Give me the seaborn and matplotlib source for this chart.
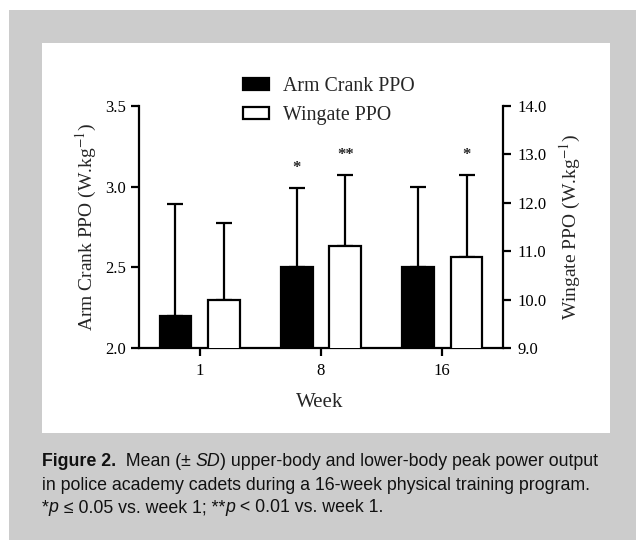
import numpy as np
import pandas as pd
import matplotlib
matplotlib.use("Agg")
import matplotlib.pyplot as plt
import seaborn as sns
from matplotlib.patches import Rectangle, Patch

# ---------------- data ----------------
weeks = ["1", "8", "16"]
arm_mean = [2.2, 2.5, 2.5]
arm_sd = [0.69, 0.49, 0.5]
wing_mean = [10.0, 11.1, 10.88]
wing_sd = [1.58, 1.47, 1.69]
arm_sig = ["", "*", ""]
wing_sig = ["", "**", "*"]
series = ["Arm Crank PPO", "Wingate PPO"]
left_ticks = [2.0, 2.5, 3.0, 3.5]
right_ticks = [9.0, 10.0, 11.0, 12.0, 13.0, 14.0]

df_arm = pd.DataFrame({"Week": weeks, "val": arm_mean, "series": series[0]})
df_wing = pd.DataFrame({"Week": weeks, "val": wing_mean, "series": series[1]})

sns.set_theme(style="ticks")
plt.rcParams["font.family"] = ["Liberation Serif", "DejaVu Serif"]
plt.rcParams["mathtext.fontset"] = "stix"

W, H = 636, 540
fig = plt.figure(figsize=(W / 100, H / 100), dpi=100)
fig.patch.set_facecolor("white")

# background panels
fig.patches.append(Rectangle((9 / W, 0), 1 - 9 / W, 1 - 10 / H, transform=fig.transFigure,
                             facecolor="#cccccc", edgecolor="none", zorder=-10))
fig.patches.append(Rectangle((42 / W, 1 - 433 / H), (610 - 42) / W, (433 - 43) / H,
                             transform=fig.transFigure, facecolor="white", edgecolor="none", zorder=-9))

ax = fig.add_axes([139 / W, 1 - 348 / H, (503 - 139) / W, (348 - 106) / H])
ax.patch.set_alpha(0)
ax2 = ax.twinx()
ax2.patch.set_alpha(0)

pal = {series[0]: "black", series[1]: "white"}
lw = 1.6
sns.barplot(data=df_arm, x="Week", y="val", hue="series", hue_order=series, order=weeks,
            palette=pal, width=0.8, gap=0.35, dodge=True, edgecolor="black", linewidth=lw,
            errorbar=None, legend=False, ax=ax)
sns.barplot(data=df_wing, x="Week", y="val", hue="series", hue_order=series, order=weeks,
            palette=pal, width=0.8, gap=0.35, dodge=True, edgecolor="black", linewidth=lw,
            errorbar=None, legend=False, ax=ax2)

def add_err(a, means, sds, sigs):
    bars = [p for p in a.patches if p.get_height() > 0][:len(means)]
    xs = [p.get_x() + p.get_width() / 2 for p in bars]
    a.errorbar(xs, means, yerr=[np.zeros(len(sds)), sds], fmt="none", ecolor="black",
               elinewidth=lw, capsize=5.5, capthick=lw, zorder=0)
    for x, m, s, t in zip(xs, means, sds, sigs):
        if t:
            a.annotate(t, (x, m + s), xytext=(0, 9), textcoords="offset points",
                       ha="center", va="bottom", fontsize=12, weight="bold")

add_err(ax, arm_mean, arm_sd, arm_sig)
add_err(ax2, wing_mean, wing_sd, wing_sig)

ax.set_ylim(2.0, 3.5)
ax2.set_ylim(9.0, 14.0)
ax.set_xlim(-0.5, 2.5)
ax.set_yticks(left_ticks)
ax.set_yticklabels([f"{v:.1f}" for v in left_ticks])
ax2.set_yticks(right_ticks)
ax2.set_yticklabels([f"{v:.1f}" for v in right_ticks])

for a in (ax, ax2):
    a.spines["top"].set_visible(False)
    for s in a.spines.values():
        s.set_linewidth(1.6)
        s.set_color("black")
ax.spines["right"].set_visible(False)
ax2.spines["left"].set_visible(False)
ax2.spines["bottom"].set_visible(False)

ax.tick_params(axis="both", direction="out", length=5.5, width=1.6, colors="black",
               labelsize=12, pad=4)
ax.tick_params(axis="x", pad=5)
ax2.tick_params(axis="y", direction="out", length=5.5, width=1.6, colors="black",
                labelsize=12, pad=5)

ax.set_xlabel("Week", fontsize=15)
ax.set_ylabel("Arm Crank PPO (W.kg$^{-1}$)", fontsize=14)
ax2.set_ylabel("Wingate PPO (W.kg$^{-1}$)", fontsize=14)
ax.xaxis.set_label_coords(0.497, -0.185)
ax.yaxis.set_label_coords(-0.11, 0.5)
ax2.yaxis.set_label_coords(1.151, 0.5)

handles = [Patch(facecolor="black", edgecolor="black", linewidth=lw),
           Patch(facecolor="white", edgecolor="black", linewidth=lw)]
fig.legend(handles, series, loc="upper left", bbox_to_anchor=(243 / W, 1 - 77 / H),
           frameon=False, fontsize=14.3, handlelength=1.3, handleheight=0.6,
           labelspacing=0.5, handletextpad=0.7, borderaxespad=0, borderpad=0)

# caption
cap_font = ["Liberation Sans", "DejaVu Sans"]
cap_size = 12.75
lines = [
    [("Figure 2.", "bold", "normal"), ("  Mean (\u00b1 ", "normal", "normal"), ("SD", "normal", "italic"),
     (") upper-body and lower-body peak power output", "normal", "normal")],
    [("in police academy cadets during a 16-week physical training program.", "normal", "normal")],
    [("*", "normal", "normal"), ("p", "normal", "italic"), (" \u2264 0.05 vs. week 1; **", "normal", "normal"),
     ("p", "normal", "italic"), (" < 0.01 vs. week 1.", "normal", "normal")],
]
line_y = [461, 485, 508]
fig.canvas.draw()
renderer = fig.canvas.get_renderer()
for pieces, yy in zip(lines, line_y):
    x = 42 / W
    for txt, wt, st in pieces:
        t = fig.text(x, 1 - yy / H, txt, family=cap_font, fontsize=cap_size, weight=wt, style=st,
                     va="center", ha="left", color="#111111")
        bb = t.get_window_extent(renderer=renderer)
        x = bb.x1 / (W)

fig.savefig("out.png", dpi=100)
